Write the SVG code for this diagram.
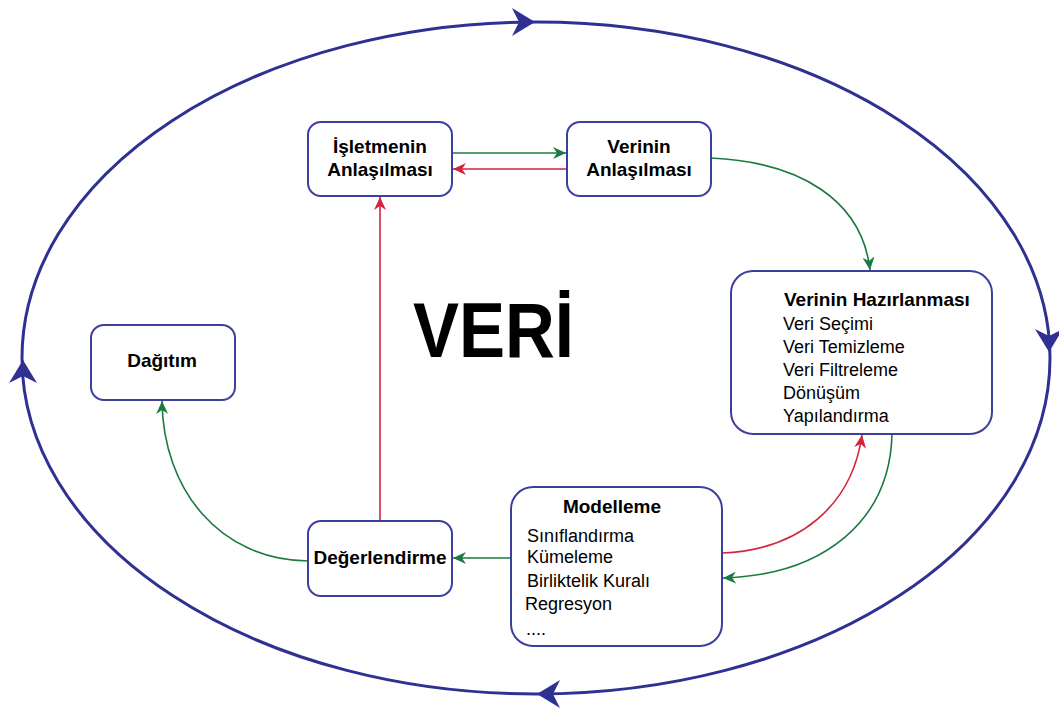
<svg xmlns="http://www.w3.org/2000/svg" width="1059" height="709" viewBox="0 0 1059 709">
  <style>
    .box { fill: #ffffff; stroke: #3d3f9f; stroke-width: 2; }
    .t { font-family: "Liberation Sans", Arial, sans-serif; fill: #000000; }
    .b { font-weight: bold; font-size: 19px; }
    .r { font-size: 18px; }
    .mid { text-anchor: middle; }
    .g { fill: none; stroke: #1b7a40; stroke-width: 1.6; }
    .red { fill: none; stroke: #d2243c; stroke-width: 1.6; }
    .cycle { fill: none; stroke: #2e3192; stroke-width: 3; }
  </style>
  <defs>
    <marker id="ag" markerUnits="userSpaceOnUse" markerWidth="14" markerHeight="12" refX="13" refY="6" orient="auto">
      <path d="M0,0 L13,6 L0,12 L4,6 Z" fill="#1b7a40"/>
    </marker>
    <marker id="ar" markerUnits="userSpaceOnUse" markerWidth="14" markerHeight="12" refX="13" refY="6" orient="auto">
      <path d="M0,0 L13,6 L0,12 L4,6 Z" fill="#d2243c"/>
    </marker>
    <path id="big" d="M0,0 L-23,-14 L-16,0 L-23,14 Z" fill="#2e3192"/>
  </defs>

  <!-- outer data cycle -->
  <g id="cycle">
    <ellipse class="cycle" cx="536" cy="358" rx="514" ry="336"/>
    <use href="#big" transform="translate(535,22)"/>
    <use href="#big" transform="translate(1049,352) rotate(90)"/>
    <use href="#big" transform="translate(537,694) rotate(180)"/>
    <use href="#big" transform="translate(23,360) rotate(-90)"/>
  </g>

  <!-- central title -->
  <text class="t" x="413" y="357" font-weight="bold" font-size="78" textLength="161" lengthAdjust="spacingAndGlyphs">VERİ</text>

  <!-- connectors -->
  <g id="connectors">
    <path class="g" d="M452,153 L566,153" marker-end="url(#ag)"/>
    <path class="red" d="M567,169 L453,169" marker-end="url(#ar)"/>
    <path class="g" d="M711,158 C800,162 862,200 870,270" marker-end="url(#ag)"/>
    <path class="red" d="M722,553 C800,550 852,505 862,435" marker-end="url(#ar)"/>
    <path class="g" d="M892,434 C890,520 825,575 723,578" marker-end="url(#ag)"/>
    <path class="g" d="M511,558 L453,558" marker-end="url(#ag)"/>
    <path class="red" d="M380,521 L380,197" marker-end="url(#ar)"/>
    <path class="g" d="M308,561 C220,560 163,490 162,401" marker-end="url(#ag)"/>
  </g>

  <g id="isletmenin-anlasilmasi">
    <rect class="box" x="308" y="122" width="144" height="74" rx="13"/>
    <text class="t b mid" x="380" y="153">İşletmenin</text>
    <text class="t b mid" x="380" y="176">Anlaşılması</text>
  </g>

  <g id="verinin-anlasilmasi">
    <rect class="box" x="567" y="122" width="144" height="74" rx="13"/>
    <text class="t b mid" x="639" y="153">Verinin</text>
    <text class="t b mid" x="639" y="176">Anlaşılması</text>
  </g>

  <g id="verinin-hazirlanmasi">
    <rect class="box" x="731" y="271" width="261" height="163" rx="22"/>
    <text class="t b" x="784" y="306">Verinin Hazırlanması</text>
    <text class="t r" x="783" y="330">Veri Seçimi</text>
    <text class="t r" x="783" y="353">Veri Temizleme</text>
    <text class="t r" x="783" y="376">Veri Filtreleme</text>
    <text class="t r" x="783" y="399">Dönüşüm</text>
    <text class="t r" x="783" y="422">Yapılandırma</text>
  </g>

  <g id="modelleme">
    <rect class="box" x="511" y="487" width="211" height="159" rx="22"/>
    <text class="t b mid" x="612" y="513">Modelleme</text>
    <text class="t r" x="527" y="542">Sınıflandırma</text>
    <text class="t r" x="527" y="563">Kümeleme</text>
    <text class="t r" x="527" y="587">Birliktelik Kuralı</text>
    <text class="t r" x="525" y="610">Regresyon</text>
    <text class="t r" x="526" y="635">....</text>
  </g>

  <g id="degerlendirme">
    <rect class="box" x="308" y="521" width="144" height="75" rx="13"/>
    <text class="t b mid" x="380" y="564">Değerlendirme</text>
  </g>

  <g id="dagitim">
    <rect class="box" x="91" y="325" width="144" height="75" rx="13"/>
    <text class="t b mid" x="162" y="367">Dağıtım</text>
  </g>
</svg>
